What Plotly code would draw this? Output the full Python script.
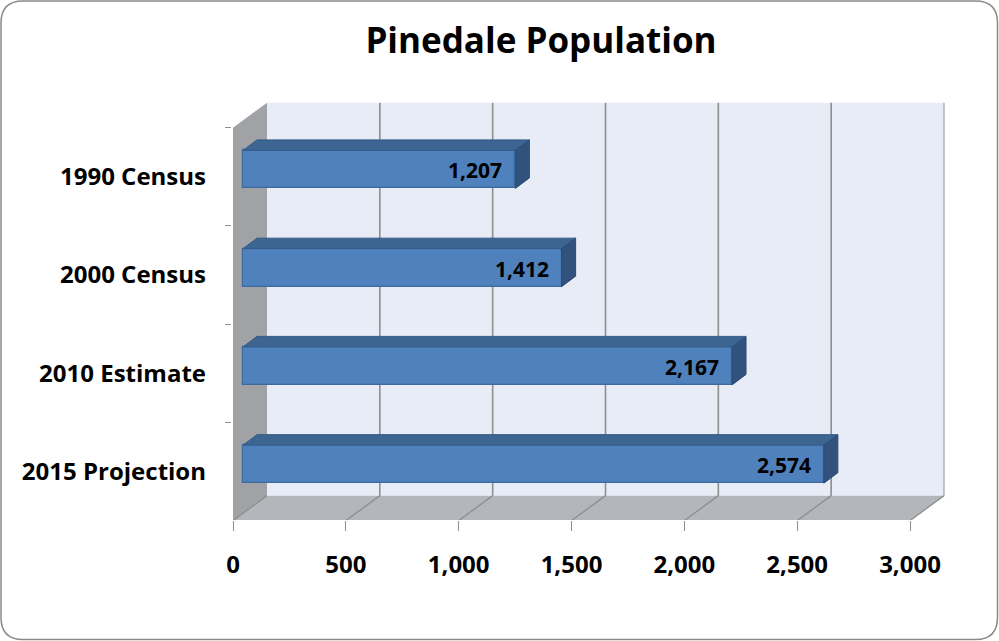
import plotly.graph_objects as go

# ---------------- data ----------------
categories = ["2015 Projection", "2010 Estimate", "2000 Census", "1990 Census"]
population = [2574, 2167, 1412, 1207]
x_ticks = [0, 500, 1000, 1500, 2000, 2500, 3000]
title_text = "Pinedale Population"

# ---------------- geometry (pixels -> data units) ----------------
W, H = 999, 641
PX0 = 233.0            # pixel of x=0 on the front plane
S = 677.0 / 3000.0     # px per data unit (x)
PY0 = 471.5            # pixel of category 0 centre on front plane
U = 98.25              # px per category band
L, R, T, B = 232, 946, 100, 520

xr = [(L - PX0) / S, (R - PX0) / S]
yr = [(PY0 - B) / U, (PY0 - T) / U]

DX = 34 / S            # wall depth (x)
DY = 25 / U            # wall depth (y)
XMAX = 3000
YLO, YHI = -0.5, len(categories) - 0.5

BAR_BASE = 10 / S      # front face of bars starts 10px in
BAR_SHIFT = 7.35 / U   # bars sit slightly up (mid depth)
BAR_H = 38 / U
BDX = 14 / S
BDY = 10.5 / U

FONT = "Open Sans"
ypos = list(range(len(categories)))

fig = go.Figure()

shapes = []
def poly(pts, fill, line=None, width=0, layer="below"):
    path = "M " + " L ".join(f"{x},{y}" for x, y in pts) + " Z"
    return dict(type="path", path=path, xref="x", yref="y", fillcolor=fill,
                line=dict(color=line or fill, width=width), layer=layer)

# back wall
shapes.append(poly([(DX, YLO + DY), (XMAX + DX, YLO + DY), (XMAX + DX, YHI + DY), (DX, YHI + DY)],
                   "#e8ecf6"))
# left wall
shapes.append(poly([(0, YLO), (0, YHI), (DX, YHI + DY), (DX, YLO + DY)], "#a0a2a6"))
# floor
shapes.append(poly([(0, YLO), (XMAX, YLO), (XMAX + DX, YLO + DY), (DX, YLO + DY)], "#b3b6ba"))

grid_col = "#8e8e8e"
for v in x_ticks:
    if 0 < v < XMAX:
        shapes.append(dict(type="line", xref="x", yref="y", x0=v + DX, x1=v + DX,
                           y0=YLO + DY, y1=YHI + DY, line=dict(color=grid_col, width=1.6),
                           layer="below"))
    shapes.append(dict(type="line", xref="x", yref="y", x0=v, x1=v + DX,
                       y0=YLO, y1=YLO + DY, line=dict(color=grid_col, width=1.3), layer="below"))
# back wall right edge
shapes.append(dict(type="line", xref="x", yref="y", x0=XMAX + DX, x1=XMAX + DX,
                   y0=YLO + DY, y1=YHI + DY, line=dict(color="#a8a8a8", width=1.3), layer="below"))
# floor front edge
shapes.append(dict(type="line", xref="x", yref="y", x0=0, x1=XMAX, y0=YLO, y1=YLO,
                   line=dict(color=grid_col, width=1.3), layer="below"))

# rounded outer border (paper coords computed from pixels)
pw, ph = R - L, B - T
def px(xp): return (xp - L) / pw
def py(yp): return (B - yp) / ph
x0b, x1b, y0b, y1b, rad = 1, 997.5, 1, 639.5, 22
path = (f"M {px(x0b+rad)},{py(y0b)} L {px(x1b-rad)},{py(y0b)} "
        f"Q {px(x1b)},{py(y0b)} {px(x1b)},{py(y0b+rad)} "
        f"L {px(x1b)},{py(y1b-rad)} Q {px(x1b)},{py(y1b)} {px(x1b-rad)},{py(y1b)} "
        f"L {px(x0b+rad)},{py(y1b)} Q {px(x0b)},{py(y1b)} {px(x0b)},{py(y1b-rad)} "
        f"L {px(x0b)},{py(y0b+rad)} Q {px(x0b)},{py(y0b)} {px(x0b+rad)},{py(y0b)} Z")
shapes.append(dict(type="path", path=path, xref="paper", yref="paper",
                   line=dict(color="#8a8a8a", width=1.5), fillcolor="rgba(0,0,0,0)", layer="above"))

# front faces of bars
fig.add_trace(go.Bar(
    y=ypos, x=population, base=BAR_BASE, orientation="h",
    width=BAR_H, offset=BAR_SHIFT - BAR_H / 2,
    marker=dict(color="#4f81bd", line=dict(color="#3e6a9e", width=1.2)),
    hoverinfo="skip", showlegend=False,
))

# top and side faces
for i, v in zip(ypos, population):
    yt = i + BAR_SHIFT + BAR_H / 2
    yb = i + BAR_SHIFT - BAR_H / 2
    x0 = BAR_BASE
    x1 = BAR_BASE + v
    fig.add_trace(go.Scatter(
        x=[x0, x1, x1 + BDX, x0 + BDX, x0], y=[yt, yt, yt + BDY, yt + BDY, yt],
        fill="toself", fillcolor="#3d6592", mode="lines",
        line=dict(color="#355a86", width=1), hoverinfo="skip", showlegend=False))
    fig.add_trace(go.Scatter(
        x=[x1, x1 + BDX, x1 + BDX, x1, x1], y=[yb, yb + BDY, yt + BDY, yt, yb],
        fill="toself", fillcolor="#30527c", mode="lines",
        line=dict(color="#2c4b72", width=1), hoverinfo="skip", showlegend=False))

# data labels
annotations = []
for i, v in zip(ypos, population):
    annotations.append(dict(
        x=BAR_BASE + v, y=i + BAR_SHIFT, xref="x", yref="y", text=f"{v:,}",
        showarrow=False, xanchor="right", yanchor="middle", xshift=-11, yshift=-1,
        font=dict(family=FONT, size=21, color="black", weight="bold")))

fig.update_layout(
    width=W, height=H, autosize=False,
    margin=dict(l=L, r=W - R, t=T, b=H - B, pad=0),
    paper_bgcolor="white", plot_bgcolor="white",
    title=dict(text=title_text, x=541 / W, xanchor="center", xref="container",
               y=1 - 41 / H, yanchor="middle", yref="container",
               font=dict(family=FONT, size=35, color="black", weight="bold")),
    xaxis=dict(range=xr, tickvals=x_ticks, ticktext=[f"{v:,}" for v in x_ticks],
               ticks="outside", ticklen=10, tickcolor=grid_col, tickwidth=1.3,
               showgrid=False, zeroline=False, showline=False, automargin=False,
               ticklabelstandoff=13,
               tickfont=dict(family=FONT, size=24, color="black", weight="bold")),
    yaxis=dict(range=yr, tickvals=ypos, ticktext=categories, ticks="",
               showgrid=False, zeroline=False, showline=False, automargin=False,
               ticklabelstandoff=25,
               minor=dict(tick0=-0.5, dtick=1, ticks="outside", ticklen=6,
                          tickcolor=grid_col, tickwidth=1.3, showgrid=False),
               tickfont=dict(family=FONT, size=24, color="black", weight="bold")),
    shapes=shapes, annotations=annotations,
    bargap=0,
)

fig.write_html("out.html")
